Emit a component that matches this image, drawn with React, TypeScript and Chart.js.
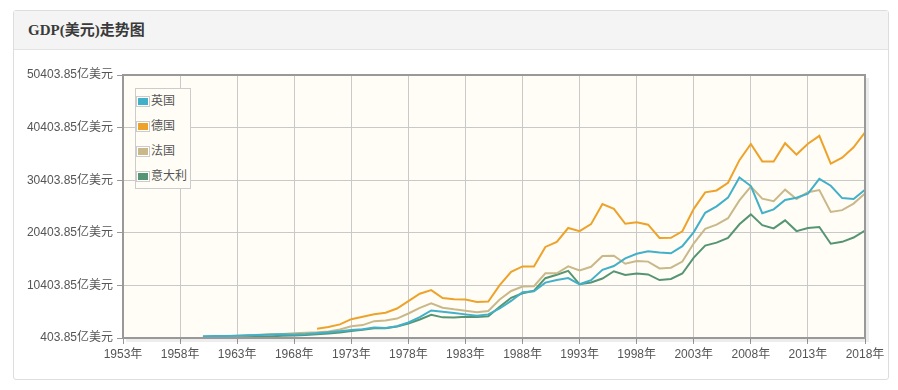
import React, { useEffect, useRef } from "react";
import { Chart, registerables } from "chart.js";

Chart.register(...registerables);

const years = [
  1960, 1961, 1962, 1963, 1964, 1965, 1966, 1967, 1968, 1969,
  1970, 1971, 1972, 1973, 1974, 1975, 1976, 1977, 1978, 1979,
  1980, 1981, 1982, 1983, 1984, 1985, 1986, 1987, 1988, 1989,
  1990, 1991, 1992, 1993, 1994, 1995, 1996, 1997, 1998, 1999,
  2000, 2001, 2002, 2003, 2004, 2005, 2006, 2007, 2008, 2009,
  2010, 2011, 2012, 2013, 2014, 2015, 2016, 2017, 2018,
];

const germanyYears = [
  1970, 1971, 1972, 1973, 1974, 1975, 1976, 1977, 1978, 1979,
  1980, 1981, 1982, 1983, 1984, 1985, 1986, 1987, 1988, 1989,
  1990, 1991, 1992, 1993, 1994, 1995, 1996, 1997, 1998, 1999,
  2000, 2001, 2002, 2003, 2004, 2005, 2006, 2007, 2008, 2009,
  2010, 2011, 2012, 2013, 2014, 2015, 2016, 2017, 2018,
];

// GDP, 亿美元
const ukValues = [
  723, 767, 806, 854, 930, 995, 1053, 1100, 1076, 1165,
  1307, 1481, 1700, 1925, 2061, 2418, 2326, 2631, 3359, 4390,
  5649, 5408, 5150, 4896, 4615, 4893, 6015, 7452, 9101, 9269,
  10932, 11428, 11797, 10614, 11405, 13356, 14087, 15533, 16429, 16878,
  16655, 16498, 17857, 20544, 24215, 25432, 27084, 30905, 29294, 24128,
  24855, 26638, 27071, 27860, 30652, 29349, 26997, 26834, 28607,
];

const germanyValues = [
  2158, 2490, 2998, 3984, 4453, 4906, 5198, 6007, 7405, 8813,
  9503, 8005, 7766, 7707, 7251, 7325, 10463, 12980, 14012, 13990,
  17717, 18689, 21316, 20713, 22051, 25858, 24972, 22117, 22389, 21949,
  19431, 19441, 20686, 24961, 28092, 28458, 29922, 34212, 37300, 33978,
  33964, 37444, 35273, 37327, 38839, 33562, 34675, 36658, 39513,
];

const franceValues = [
  622, 675, 753, 840, 940, 1015, 1100, 1188, 1295, 1407,
  1485, 1660, 2035, 2644, 2856, 3606, 3729, 4103, 5067, 6135,
  7013, 6156, 5849, 5599, 5307, 5531, 7715, 9342, 10188, 10255,
  12692, 12693, 14015, 13228, 13940, 16011, 16057, 14529, 15031, 14926,
  13622, 13765, 14943, 18405, 21157, 21961, 23186, 26572, 29184, 26902,
  26426, 28614, 26838, 28111, 28522, 24382, 24713, 25952, 27879,
];

const italyValues = [
  404, 448, 504, 577, 632, 680, 737, 812, 879, 971,
  1134, 1246, 1448, 1749, 1990, 2277, 2248, 2576, 3150, 3931,
  4807, 4326, 4292, 4439, 4400, 4556, 6352, 8050, 8904, 9392,
  11773, 12421, 13158, 10614, 10956, 11708, 13089, 12391, 12664, 12486,
  11418, 11623, 12668, 15696, 17983, 18527, 19426, 22031, 23907, 21852,
  21251, 22763, 20728, 21305, 21517, 18322, 18690, 19500, 20839,
];

const seriesNames = ["英国", "德国", "法国", "意大利"];
const seriesColors = ["#41b0c8", "#eda32a", "#c9b88a", "#569573"];

const xTickYears = [1953, 1958, 1963, 1968, 1973, 1978, 1983, 1988, 1993, 1998, 2003, 2008, 2013, 2018];
const yTickValues = [403.85, 10403.85, 20403.85, 30403.85, 40403.85, 50403.85];

const FONT = '"Liberation Sans", "Noto Sans CJK SC", sans-serif';

function toPoints(xs: number[], ys: number[]) {
  return xs.map((x, i) => ({ x, y: ys[i] }));
}

const framePlugin = {
  id: "frame",
  beforeDraw(chart: any) {
    const { ctx, chartArea: a } = chart;
    ctx.save();
    ctx.fillStyle = "#fffdf6";
    ctx.fillRect(a.left, a.top, a.right - a.left, a.bottom - a.top);
    ctx.restore();
  },
  afterDraw(chart: any) {
    const { ctx, chartArea: a } = chart;
    ctx.save();
    ctx.strokeStyle = "rgba(0,0,0,0.07)";
    ctx.lineWidth = 3;
    ctx.beginPath();
    ctx.moveTo(a.right + 2.5, a.top + 3);
    ctx.lineTo(a.right + 2.5, a.bottom + 2.5);
    ctx.lineTo(a.left + 3, a.bottom + 2.5);
    ctx.stroke();
    ctx.strokeStyle = "#999999";
    ctx.lineWidth = 2;
    ctx.strokeRect(a.left, a.top, a.right - a.left, a.bottom - a.top);
    ctx.restore();
  },
};

export default function App() {
  const ref = useRef<HTMLCanvasElement | null>(null);

  useEffect(() => {
    if (!ref.current) return;
    const seriesData = [
      toPoints(years, ukValues),
      toPoints(germanyYears, germanyValues),
      toPoints(years, franceValues),
      toPoints(years, italyValues),
    ];
    const chart = new Chart(ref.current, {
      type: "line",
      data: {
        datasets: seriesData.map((d, i) => ({
          label: seriesNames[i],
          data: d,
          borderColor: seriesColors[i],
          backgroundColor: seriesColors[i],
          borderWidth: 2,
          pointRadius: 0,
          tension: 0,
          fill: false,
        })),
      },
      options: {
        responsive: false,
        animation: false,
        layout: { padding: { left: 0, right: 33, top: 25, bottom: 0 } },
        plugins: { legend: { display: false }, tooltip: { enabled: false } },
        scales: {
          x: {
            type: "linear",
            min: 1953,
            max: 2018,
            afterBuildTicks: (s: any) => {
              s.ticks = xTickYears.map((v) => ({ value: v }));
            },
            afterFit: (s: any) => {
              s.height = 52;
            },
            ticks: {
              callback: (v: any) => v + "年",
              color: "#555",
              font: { family: FONT, size: 12 },
              padding: 3,
              maxRotation: 0,
              autoSkip: false,
            },
            grid: { color: "#c9c9c9", tickColor: "#999", tickLength: 6, lineWidth: 1 },
            border: { display: false },
          },
          y: {
            type: "linear",
            min: 403.85,
            max: 50403.85,
            afterBuildTicks: (s: any) => {
              s.ticks = yTickValues.map((v) => ({ value: v }));
            },
            afterFit: (s: any) => {
              s.width = 123;
            },
            ticks: {
              callback: (v: any) => Number(v).toFixed(2) + "亿美元",
              color: "#555",
              font: { family: FONT, size: 12 },
              padding: 4,
              autoSkip: false,
            },
            grid: { color: "#c9c9c9", tickColor: "#999", tickLength: 6, lineWidth: 1 },
            border: { display: false },
          },
        },
      },
      plugins: [framePlugin],
    });
    return () => chart.destroy();
  }, []);

  return (
    <div style={{ position: "fixed", left: 0, top: 0, width: 898, height: 390, background: "#fff", overflow: "hidden" }}>
      <div
        style={{
          position: "absolute",
          left: 13,
          top: 10,
          width: 876,
          height: 370,
          boxSizing: "border-box",
          border: "1px solid #dddddd",
          borderRadius: 3,
          background: "#fff",
        }}
      >
        <div
          style={{
            height: 39,
            background: "#f4f4f4",
            borderBottom: "1px solid #e3e3e3",
            boxSizing: "border-box",
            paddingLeft: 14,
            lineHeight: "39px",
            fontFamily: '"Liberation Serif", "Noto Sans CJK SC", serif',
            fontWeight: "bold",
            fontSize: 15,
            color: "#3a3a3a",
          }}
        >
          GDP(美元)走势图
        </div>
      </div>
      <canvas
        ref={ref}
        width={898}
        height={340}
        style={{ position: "absolute", left: 0, top: 50, width: 898, height: 340 }}
      />
      <div
        style={{
          position: "absolute",
          left: 135,
          top: 88,
          width: 56,
          height: 101,
          boxSizing: "border-box",
          border: "1px solid #cccccc",
          background: "#fffdf6",
        }}
      >
        {seriesNames.map((name, i) => (
          <div
            key={name}
            style={{ position: "absolute", left: 0, top: 7 + 25 * i, height: 11, display: "flex", alignItems: "center" }}
          >
            <div
              style={{
                width: 14,
                height: 11,
                boxSizing: "border-box",
                border: "1px solid #cccccc",
                padding: 1,
                background: "#fff",
              }}
            >
              <div style={{ width: "100%", height: "100%", background: seriesColors[i] }} />
            </div>
            <span
              style={{
                marginLeft: 1,
                fontFamily: FONT,
                fontSize: 12,
                color: "#555",
                whiteSpace: "nowrap",
                lineHeight: "11px",
              }}
            >
              {name}
            </span>
          </div>
        ))}
      </div>
    </div>
  );
}
